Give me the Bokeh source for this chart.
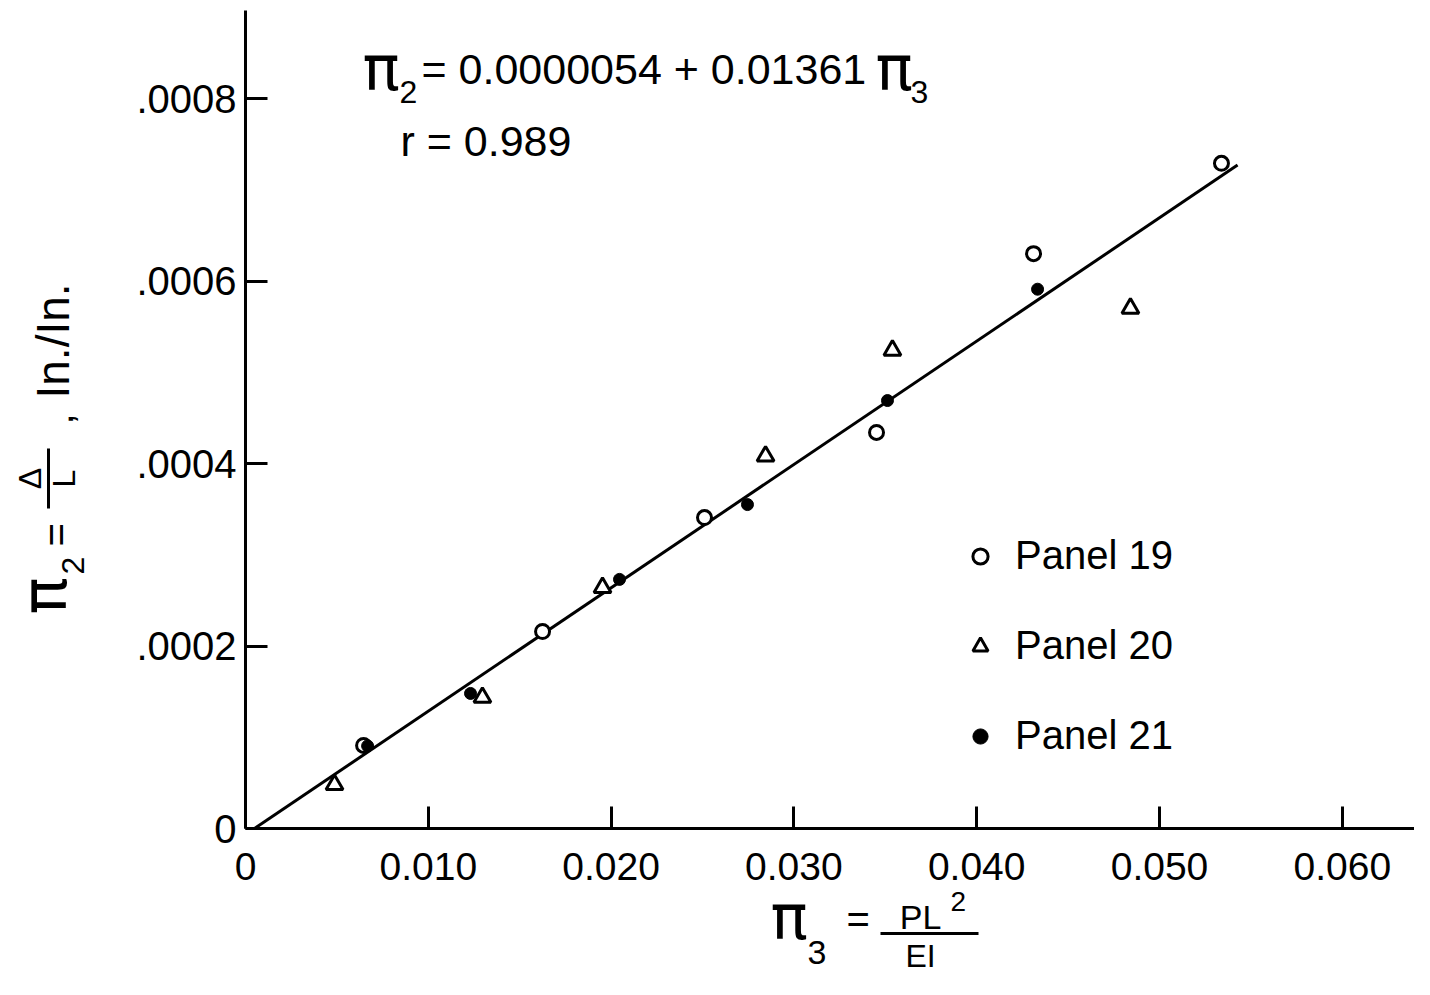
from math import pi
from bokeh.plotting import figure
from bokeh.models import (Label, Arrow, Legend, LegendItem, FixedTicker, Range1d,
                          LinearAxis)
from bokeh.embed import file_html
from bokeh.resources import INLINE

# ---------------- data ----------------
p19_x = [0.00646, 0.01625, 0.02511, 0.03452, 0.04311, 0.05339]
p19_y = [0.0000910, 0.0002159, 0.0003408, 0.000434, 0.000630, 0.000729]

p20_x = [0.00487, 0.01296, 0.01953, 0.02845, 0.03539, 0.04841]
p20_y = [0.0000480, 0.0001436, 0.000264, 0.000408, 0.000524, 0.000570]

p21_x = [0.00668, 0.01231, 0.02046, 0.02746, 0.03512, 0.04333]
p21_y = [0.0000905, 0.000148, 0.000273, 0.000355, 0.000469, 0.000591]

fit_x = [0.00049, 0.05427]
fit_y = [0.0, 0.000727]

x_ticks = [0.0, 0.01, 0.02, 0.03, 0.04, 0.05, 0.06]
x_tick_labels = ["0", "0.010", "0.020", "0.030", "0.040", "0.050", "0.060"]
y_ticks = [0.0, 0.0002, 0.0004, 0.0006, 0.0008]
y_tick_labels = ["0", ".0002", ".0004", ".0006", ".0008"]

legend_labels = ["Panel 19", "Panel 20", "Panel 21"]
eq_text = "= 0.0000054 + 0.01361"
r_text = "r = 0.989"

# ---------------- layout helpers (canvas pixel -> data) ----------------
FONT = "Liberation Sans"
PIFONT = "DejaVu Sans"
W, H = 1414, 979
def FX(px):
    return (px - 245) / 18280.0
def FY(py):
    return (828 - py) / 912500.0

p = figure(width=W, height=H, output_backend="svg", toolbar_location=None,
           x_range=Range1d(FX(0), FX(W)), y_range=Range1d(FY(H), FY(0)),
           x_axis_type=None, y_axis_type=None, min_border=0)
p.outline_line_color = None
p.background_fill_color = "white"
p.border_fill_color = "white"

xaxis = LinearAxis(fixed_location=0, bounds=(0, FX(W)),
                   ticker=FixedTicker(ticks=x_ticks),
                   major_label_overrides={t: l for t, l in zip(x_ticks, x_tick_labels)})
yaxis = LinearAxis(fixed_location=0, bounds=(0, FY(10)),
                   ticker=FixedTicker(ticks=y_ticks),
                   major_label_overrides={t: l for t, l in zip(y_ticks, y_tick_labels)})
for ax in (xaxis, yaxis):
    ax.axis_line_width = 3
    ax.axis_line_color = "black"
    ax.major_tick_line_width = 3
    ax.major_tick_line_color = "black"
    ax.major_tick_in = 22
    ax.major_tick_out = 0
    ax.minor_tick_line_color = None
    ax.major_label_text_font = FONT
    ax.major_label_text_color = "black"
xaxis.major_label_text_font_size = "39px"
xaxis.major_label_standoff = 24
yaxis.major_label_text_font_size = "40px"
yaxis.major_label_standoff = 9
p.add_layout(xaxis, "below")
p.add_layout(yaxis, "left")

# regression line
p.line(fit_x, fit_y, line_color="black", line_width=3)

r19 = p.scatter(p19_x, p19_y, marker="circle", size=14, line_width=3,
                line_color="black", fill_color="white")
r20 = p.scatter(p20_x, p20_y, marker="triangle", size=17, line_width=3,
                line_color="black", fill_color="white")
r21 = p.scatter(p21_x, p21_y, marker="circle", size=12, line_width=1,
                line_color="black", fill_color="black")

legend = Legend(items=[LegendItem(label=legend_labels[0], renderers=[r19]),
                       LegendItem(label=legend_labels[1], renderers=[r20]),
                       LegendItem(label=legend_labels[2], renderers=[r21])],
                location=(961, 221), orientation="vertical",
                label_text_font=FONT, label_text_font_size="40px",
                label_text_color="black",
                glyph_width=38, glyph_height=38, label_standoff=16,
                spacing=45, padding=0, margin=0,
                border_line_color=None, background_fill_alpha=0)
p.add_layout(legend)

def lab(px, py, text, size, align="left", angle=0.0, font=FONT):
    # (px, py): canvas position of the text's vertical middle
    p.add_layout(Label(x=FX(px), y=FY(py), text=text, text_font=font,
                       text_font_size=f"{size}px", text_align=align,
                       text_baseline="middle", angle=angle, text_color="black"))

def bar(px0, py0, px1, py1):
    p.add_layout(Arrow(x_start=FX(px0), y_start=FY(py0), x_end=FX(px1), y_end=FY(py1),
                       start=None, end=None, line_width=3, line_color="black"))

# equation and r
lab(362, 68, "π", 62, font=PIFONT)
lab(399, 91, "2", 32)
lab(421, 68, eq_text, 43)
lab(875, 68, "π", 62, font=PIFONT)
lab(910, 91, "3", 32)
lab(400, 140, r_text, 43)

# x-axis title  π3 = PL^2 / EI
lab(770, 917, "π", 62, font=PIFONT)
lab(807, 952, "3", 34)
lab(846, 918, "=", 40)
bar(880, 933, 978, 933)
lab(920, 916, "PL", 34, align="center")
lab(950, 901, "2", 28)
lab(920, 955, "EI", 32, align="center")

# y-axis title (rotated)  π2 = Δ/L , In./In.
A = pi / 2
lab(44, 614, "π", 62, angle=A, font=PIFONT)
lab(72, 574, "2", 32, angle=A)
lab(55, 546, "=", 40, angle=A)
lab(29, 478, "Δ", 32, align="center", angle=A)
bar(48, 448, 48, 508)
lab(63, 478, "L", 32, align="center", angle=A)
lab(58, 424, ",", 40, angle=A)
lab(52, 398, "In./In.", 46, angle=A)

open("out.html", "w").write(file_html(p, INLINE))
